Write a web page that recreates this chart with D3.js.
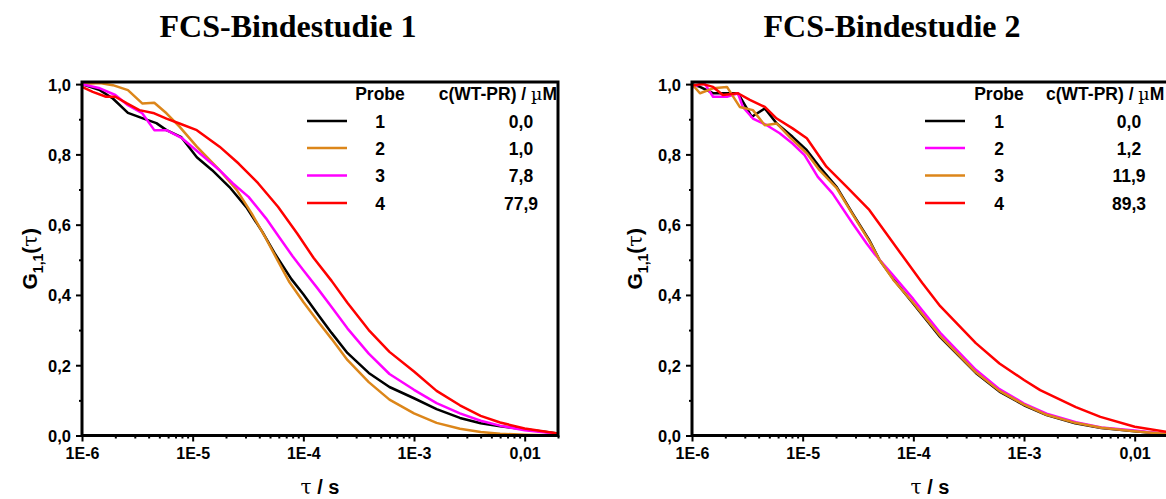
<!DOCTYPE html>
<html>
<head>
<meta charset="utf-8">
<script src="https://cdn.jsdelivr.net/npm/d3@7"></script>
<style>
  body { margin: 0; background: #fff; }
  svg text { font-family: "Liberation Sans", Arial, sans-serif; font-weight: bold; fill: #000; }
  .title { font-family: "Liberation Serif", "Times New Roman", serif; font-size: 32px; }
  .greek { font-family: "DejaVu Serif", "Liberation Serif", serif; font-weight: normal; }
</style>
</head>
<body>
<svg width="1166" height="499"></svg>
<script>
// axis ticks
const xTicks = [1e-6, 1e-5, 1e-4, 1e-3, 1e-2];
const xTickLabels = ['1E-6', '1E-5', '1E-4', '1E-3', '0,01'];
const yTicks = [0, 0.2, 0.4, 0.6, 0.8, 1.0];
const yTickLabels = ['0,0', '0,2', '0,4', '0,6', '0,8', '1,0'];
const yMinor = [0.1, 0.3, 0.5, 0.7, 0.9];

const titles = ['FCS-Bindestudie 1', 'FCS-Bindestudie 2'];
const probes = ['1', '2', '3', '4'];
const conc1 = ['0,0', '1,0', '7,8', '77,9'];
const conc2 = ['0,0', '1,2', '11,9', '89,3'];

// [tau (s), G]
const p1_probe1 = [[1e-6,1.000],[1.45e-6,0.983],[1.9e-6,0.959],[2.6e-6,0.918],[3.5e-6,0.903],[4.7e-6,0.889],[5.8e-6,0.869],[7.9e-6,0.849],[1.09e-5,0.792],[1.5e-5,0.755],[2.15e-5,0.707],[3.05e-5,0.650],[4.25e-5,0.580],[5.6e-5,0.515],[7.8e-5,0.445],[1e-4,0.402],[1.35e-4,0.345],[1.8e-4,0.292],[2.5e-4,0.235],[3.9e-4,0.178],[6e-4,0.138],[1e-3,0.106],[1.6e-3,0.075],[2.6e-3,0.050],[4e-3,0.035],[6e-3,0.026],[1e-2,0.018],[2e-2,0.006]];
const p1_probe2 = [[1e-6,1.000],[1.45e-6,1.003],[1.9e-6,0.997],[2.6e-6,0.983],[3.5e-6,0.945],[4.5e-6,0.947],[5.8e-6,0.917],[7.6e-6,0.879],[1.09e-5,0.822],[1.75e-5,0.755],[2.5e-5,0.699],[3.4e-5,0.633],[4.6e-5,0.560],[6e-5,0.492],[7.5e-5,0.436],[1e-4,0.380],[1.35e-4,0.325],[1.8e-4,0.275],[2.5e-4,0.215],[3.9e-4,0.152],[6e-4,0.102],[1e-3,0.063],[1.6e-3,0.036],[2.6e-3,0.019],[4e-3,0.010],[6e-3,0.005],[1e-2,0.002],[2e-2,0.000]];
const p1_probe3 = [[1e-6,1.000],[1.45e-6,0.988],[2e-6,0.969],[2.6e-6,0.940],[3.5e-6,0.917],[4.5e-6,0.869],[5.8e-6,0.869],[8e-6,0.846],[1.15e-5,0.804],[1.75e-5,0.755],[2.3e-5,0.718],[3.2e-5,0.679],[4.6e-5,0.618],[6.1e-5,0.563],[8e-5,0.510],[1e-4,0.470],[1.35e-4,0.418],[1.8e-4,0.366],[2.5e-4,0.305],[3.9e-4,0.233],[6e-4,0.175],[1e-3,0.130],[1.6e-3,0.092],[2.6e-3,0.063],[4e-3,0.042],[6e-3,0.028],[1e-2,0.015],[2e-2,0.005]];
const p1_probe4 = [[1e-6,0.992],[1.25e-6,0.978],[1.65e-6,0.964],[2e-6,0.964],[2.55e-6,0.945],[3.3e-6,0.926],[4.5e-6,0.917],[5.8e-6,0.902],[7.6e-6,0.888],[1.09e-5,0.869],[1.75e-5,0.822],[2.6e-5,0.774],[3.9e-5,0.718],[5.9e-5,0.651],[8.8e-5,0.575],[1.24e-4,0.505],[1.8e-4,0.440],[2.5e-4,0.378],[3.9e-4,0.300],[6e-4,0.238],[1e-3,0.182],[1.6e-3,0.127],[2.6e-3,0.086],[4e-3,0.056],[6e-3,0.037],[1e-2,0.020],[2e-2,0.006]];

const p2_probe1 = [[1e-6,1.000],[1.18e-6,0.992],[1.55e-6,0.974],[2.07e-6,0.974],[2.6e-6,0.974],[3.47e-6,0.907],[4.55e-6,0.931],[5.83e-6,0.888],[8.1e-6,0.850],[1.09e-5,0.812],[1.42e-5,0.765],[2.02e-5,0.708],[2.82e-5,0.632],[4e-5,0.556],[4.94e-5,0.500],[6.6e-5,0.445],[1e-4,0.375],[1.75e-4,0.280],[3.67e-4,0.178],[6e-4,0.125],[1e-3,0.086],[1.6e-3,0.058],[2.9e-3,0.035],[5e-3,0.021],[1e-2,0.012],[2e-2,0.004]];
const p2_probe2 = [[1e-6,0.990],[1.18e-6,1.000],[1.31e-6,1.000],[1.55e-6,0.964],[2.07e-6,0.964],[2.6e-6,0.974],[2.88e-6,0.935],[3.55e-6,0.902],[4.74e-6,0.883],[6.2e-6,0.860],[8.1e-6,0.831],[1.04e-5,0.798],[1.37e-5,0.736],[1.86e-5,0.689],[2.82e-5,0.604],[3.77e-5,0.547],[4.5e-5,0.515],[6.6e-5,0.455],[1e-4,0.388],[1.75e-4,0.292],[3.67e-4,0.187],[6e-4,0.132],[1e-3,0.091],[1.6e-3,0.062],[2.94e-3,0.038],[5e-3,0.023],[1e-2,0.014],[2e-2,0.004]];
const p2_probe3 = [[1e-6,1.000],[1.18e-6,0.974],[1.55e-6,0.988],[2.07e-6,0.992],[2.7e-6,0.935],[3.55e-6,0.926],[4.55e-6,0.883],[5.83e-6,0.888],[7.6e-6,0.850],[1.09e-5,0.803],[1.42e-5,0.755],[2.02e-5,0.705],[2.82e-5,0.630],[4e-5,0.553],[4.94e-5,0.500],[6.6e-5,0.443],[1e-4,0.377],[1.75e-4,0.283],[3.67e-4,0.180],[6e-4,0.127],[1e-3,0.088],[1.6e-3,0.059],[2.9e-3,0.036],[5e-3,0.022],[1e-2,0.012],[2e-2,0.004]];
const p2_probe4 = [[1.02e-6,0.997],[1.26e-6,1.000],[1.55e-6,0.992],[1.9e-6,0.969],[2.6e-6,0.974],[3.33e-6,0.955],[4.55e-6,0.935],[5.83e-6,0.902],[8.1e-6,0.874],[1.09e-5,0.846],[1.64e-5,0.765],[2.49e-5,0.708],[4e-5,0.642],[5.7e-5,0.575],[7.5e-5,0.523],[1.2e-4,0.435],[1.75e-4,0.368],[3.67e-4,0.263],[6e-4,0.205],[1e-3,0.158],[1.4e-3,0.129],[2.94e-3,0.081],[4.9e-3,0.053],[1e-2,0.025],[2e-2,0.010]];

const BLACK = '#000000', ORANGE = '#DC861A', MAGENTA = '#FF00FF', RED = '#FF0000';

const svg = d3.select('svg');

const panels = [
  {
    title: titles[0], titleX: 288, left: 82, yLabelX: 37,
    series: [p1_probe1, p1_probe2, p1_probe3, p1_probe4],
    colors: [BLACK, ORANGE, MAGENTA, RED],
    conc: conc1,
    leg: { lineX1: 307, lineX2: 347, probeX: 380, concX: 521, headX: 557, headAnchor: 'end' }
  },
  {
    title: titles[1], titleX: 892, left: 692, yLabelX: 642,
    series: [p2_probe1, p2_probe2, p2_probe3, p2_probe4],
    colors: [BLACK, MAGENTA, ORANGE, RED],
    conc: conc2,
    leg: { lineX1: 925, lineX2: 965, probeX: 999, concX: 1129, headX: 1046, headAnchor: 'start' }
  }
];

const plotTop = 82, plotBottom = 435.5, plotW = 476;
const legRows = [121, 148, 175.5, 203];

panels.forEach((p, i) => {
  const x = d3.scaleLog().domain([1e-6, 2e-2]).range([p.left, p.left + plotW]);
  const y = d3.scaleLinear().domain([0, 1.006]).range([plotBottom, plotTop]);
  const g = svg.append('g');

  // title
  g.append('text').attr('class', 'title')
    .attr('x', p.titleX).attr('y', 37)
    .attr('text-anchor', 'middle')
    .text(p.title);

  // curves, clipped to the frame
  const clipId = 'clip' + i;
  svg.append('clipPath').attr('id', clipId)
    .append('rect').attr('x', p.left).attr('y', plotTop)
    .attr('width', plotW).attr('height', plotBottom - plotTop);

  const line = d3.line().x(d => x(d[0])).y(d => y(d[1]));
  g.append('g').attr('clip-path', `url(#${clipId})`)
    .selectAll('path').data(p.series)
    .enter().append('path')
      .attr('d', line)
      .attr('fill', 'none')
      .attr('stroke', (d, k) => p.colors[k])
      .attr('stroke-width', 2.5)
      .attr('stroke-linejoin', 'round');

  // x axis: majors + minors
  const xMinor = x.ticks().filter(t => !xTicks.some(m => Math.abs(m - t) / m < 1e-6));
  const xAxisMinor = g.append('g')
    .attr('transform', `translate(0,${plotBottom})`)
    .call(d3.axisBottom(x).tickValues(xMinor).tickSize(3).tickFormat(''));
  const xAxisG = g.append('g')
    .attr('transform', `translate(0,${plotBottom})`)
    .call(d3.axisBottom(x).tickValues(xTicks).tickSize(6)
      .tickFormat((d, k) => xTickLabels[k]));
  [xAxisMinor, xAxisG].forEach(a => {
    a.select('.domain').remove();
    a.selectAll('line').attr('stroke', '#000').attr('stroke-width', 2);
  });
  xAxisG.selectAll('text').attr('y', 23).attr('dy', 0).style('font-size', '16px');

  // y axis
  const yAxisMinor = g.append('g')
    .attr('transform', `translate(${p.left},0)`)
    .call(d3.axisLeft(y).tickValues(yMinor).tickSize(3).tickFormat(''));
  const yAxisG = g.append('g')
    .attr('transform', `translate(${p.left},0)`)
    .call(d3.axisLeft(y).tickValues(yTicks).tickSize(6)
      .tickFormat((d, k) => yTickLabels[k]));
  [yAxisMinor, yAxisG].forEach(a => {
    a.select('.domain').remove();
    a.selectAll('line').attr('stroke', '#000').attr('stroke-width', 2);
  });
  yAxisG.selectAll('text').attr('x', -11).attr('dy', '0.36em').style('font-size', '16.5px');

  // frame
  g.append('rect')
    .attr('x', p.left).attr('y', plotTop)
    .attr('width', plotW).attr('height', plotBottom - plotTop)
    .attr('fill', 'none').attr('stroke', '#000').attr('stroke-width', 3);

  // axis titles
  const xt = g.append('text')
    .attr('x', p.left + plotW / 2).attr('y', 494)
    .attr('text-anchor', 'middle')
    .style('font-size', '20px');
  xt.append('tspan').attr('class', 'greek').text('τ');
  xt.append('tspan').text(' / s');

  const yt = g.append('text')
    .attr('transform', `translate(${p.yLabelX},${(plotTop + plotBottom) / 2}) rotate(-90)`)
    .attr('text-anchor', 'middle')
    .style('font-size', '21px');
  yt.append('tspan').text('G');
  yt.append('tspan').attr('dy', 6).style('font-size', '14px').text('1,1');
  yt.append('tspan').attr('dy', -6).text('(');
  yt.append('tspan').attr('class', 'greek').text('τ');
  yt.append('tspan').text(')');

  // legend
  const lg = g.append('g').style('font-size', '17.5px');
  lg.append('text').attr('x', p.leg.probeX).attr('y', 100)
    .attr('text-anchor', 'middle').text('Probe');
  const head = lg.append('text').attr('x', p.leg.headX).attr('y', 100)
    .attr('text-anchor', p.leg.headAnchor);
  head.append('tspan').text('c(WT-PR) / ');
  head.append('tspan').attr('class', 'greek').text('µ');
  head.append('tspan').text('M');

  probes.forEach((pr, k) => {
    const ry = legRows[k];
    lg.append('line')
      .attr('x1', p.leg.lineX1).attr('x2', p.leg.lineX2)
      .attr('y1', ry).attr('y2', ry)
      .attr('stroke', p.colors[k]).attr('stroke-width', 2.5);
    lg.append('text').attr('x', p.leg.probeX).attr('y', ry + 6.5)
      .attr('text-anchor', 'middle').text(pr);
    lg.append('text').attr('x', p.leg.concX).attr('y', ry + 6.5)
      .attr('text-anchor', 'middle').text(p.conc[k]);
  });
});
</script>
</body>
</html>
